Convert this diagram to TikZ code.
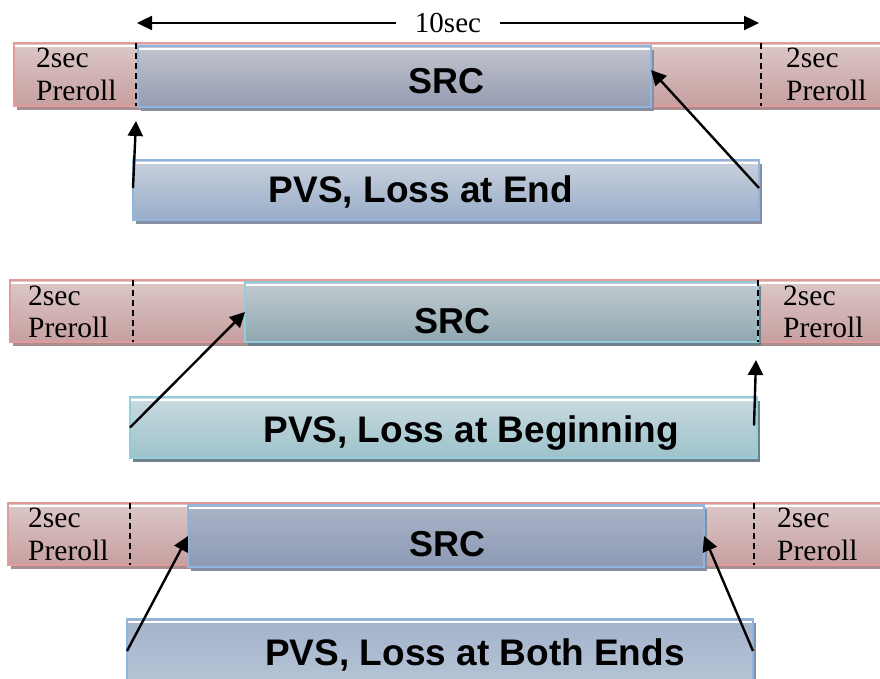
\documentclass[tikz,border=0pt]{standalone}
\usepackage{fontspec}
\setmainfont{Liberation Serif}
\newfontfamily\labelsans{Liberation Sans}
\usetikzlibrary{arrows.meta}

% bar and box colours
\definecolor{barTop}{HTML}{DCC8C8}
\definecolor{barBot}{HTML}{C79F9F}
\definecolor{barEdge}{HTML}{E39A9A}
\definecolor{barShade}{HTML}{A88E8E}
\definecolor{srcATop}{HTML}{C2C4CE}
\definecolor{srcABot}{HTML}{959CB1}
\definecolor{pvsATop}{HTML}{CAD1DD}
\definecolor{pvsABot}{HTML}{98ADC9}
\definecolor{blueEdge}{HTML}{8FB4DE}
\definecolor{blueShade}{HTML}{878EA0}
\definecolor{srcBTop}{HTML}{C1CBD0}
\definecolor{srcBBot}{HTML}{8FA7B0}
\definecolor{pvsBTop}{HTML}{C9DBE0}
\definecolor{pvsBBot}{HTML}{9DC2CB}
\definecolor{cyanEdge}{HTML}{93CDDC}
\definecolor{cyanShade}{HTML}{6F8088}
\definecolor{srcCTop}{HTML}{AAB2C6}
\definecolor{srcCBot}{HTML}{8D9BB5}
\definecolor{pvsCTop}{HTML}{A3B3CB}
\definecolor{pvsCBot}{HTML}{B5C3D5}

\tikzset{
  glossbox/.style n args={4}{
    anchor=north west, inner sep=0pt, outer sep=0pt, line width=1.6pt,
    draw=#3, top color=#1, bottom color=#2,
    preaction={fill=#4, transform canvas={shift={(3pt,-4pt)}}},
    path picture={\draw[white, line width=1.8pt]
      ([yshift=-2.8pt]path picture bounding box.north west) --
      ([yshift=-2.8pt]path picture bounding box.north east);}},
  redbar/.style={glossbox={barTop}{barBot}{barEdge}{barShade}},
  seriftxt/.style={anchor=base west, inner sep=0pt, font=\fontsize{29.5}{33}\selectfont},
  boldtxt/.style={anchor=base, inner sep=0pt, font=\labelsans\bfseries\fontsize{37}{40}\selectfont},
  srctxt/.style={anchor=base, inner sep=0pt, font=\labelsans\bfseries\fontsize{36}{40}\selectfont},
  sepmark/.style={line width=1.6pt, dash pattern=on 6pt off 4pt},
  pointer/.style={line width=2.4pt, -{Triangle[length=15pt,width=15pt]}},
  spanarrow/.style={line width=2.4pt, {Triangle[length=15pt,width=14pt]}-{Triangle[length=15pt,width=14pt]}}
}

\begin{document}
\begin{tikzpicture}[x=1pt, y=-1pt]
\useasboundingbox (0,0) rectangle (880,679);

% ---------- top panel: loss at end ----------
\draw[spanarrow] (137,23) coordinate (spanL) -- (759,23) coordinate (spanR);
\node[fill=white, inner xsep=19pt, inner ysep=2pt, font=\fontsize{29}{33}\selectfont]
  (span) at (448,23) {10sec};

\node[redbar, minimum width=868pt, minimum height=63pt] (bar1) at (14,43) {};
\node[glossbox={srcATop}{srcABot}{blueEdge}{blueShade}, minimum width=513pt, minimum height=61pt] (src1) at (138,46) {};
\node[glossbox={pvsATop}{pvsABot}{blueEdge}{blueShade}, minimum width=626pt, minimum height=60pt] (pvs1) at (133,160) {};
\draw[sepmark] (136,43) coordinate (d1a) -- (136,106);
\draw[sepmark] (761,43) coordinate (d1b) -- (761,106);

\node[seriftxt] (l1a) at (36,68) {2sec};
\node[seriftxt] (l1b) at (36,101) {Preroll};
\node[seriftxt] (r1a) at (786,68) {2sec};
\node[seriftxt] (r1b) at (786,101) {Preroll};
\node[srctxt] (s1) at (446,94) {SRC};
\node[boldtxt] (p1) at (421,203) {PVS, Loss at End};

\coordinate (e1a) at (136,121);
\coordinate (e1b) at (651,70);
\draw[pointer] ([yshift=2pt]pvs1.west) -- (e1a);
\draw[pointer] ([yshift=2pt]pvs1.east) -- (e1b);

% ---------- middle panel: loss at beginning ----------
\node[redbar, minimum width=872pt, minimum height=62pt] (bar2) at (10,280) {};
\node[glossbox={srcBTop}{srcBBot}{cyanEdge}{cyanShade}, minimum width=513pt, minimum height=60pt] (src2) at (245,282) {};
\node[glossbox={pvsBTop}{pvsBBot}{cyanEdge}{cyanShade}, minimum width=627pt, minimum height=61pt] (pvs2) at (130,397) {};
\draw[sepmark] (133,280) coordinate (d2a) -- (133,342);
\draw[sepmark] (758,280) coordinate (d2b) -- (758,342);

\node[seriftxt] (l2a) at (28,305) {2sec};
\node[seriftxt] (l2b) at (28,337) {Preroll};
\node[seriftxt] (r2a) at (783,305) {2sec};
\node[seriftxt] (r2b) at (783,337) {Preroll};
\node[srctxt] (s2) at (452,333) {SRC};
\node[boldtxt] (p2) at (471,442) {PVS, Loss at Beginning};

\coordinate (e2b) at (756,360);
\draw[pointer] (pvs2.west) -- (src2.west);
\draw[pointer] ([xshift=-3pt,yshift=2pt]pvs2.east) -- (e2b);

% ---------- bottom panel: loss at both ends ----------
\node[redbar, minimum width=874pt, minimum height=62pt] (bar3) at (8,503) {};
\node[glossbox={srcCTop}{srcCBot}{blueEdge}{blueShade}, minimum width=516pt, minimum height=62pt] (src3) at (188,505) {};
\node[glossbox={pvsCTop}{pvsCBot}{blueEdge}{blueShade}, minimum width=626pt, minimum height=64pt] (pvs3) at (127,619) {};
\draw[sepmark] (130,503) coordinate (d3a) -- (130,565);
\draw[sepmark] (754,503) coordinate (d3b) -- (754,565);

\node[seriftxt] (l3a) at (28,527) {2sec};
\node[seriftxt] (l3b) at (28,560) {Preroll};
\node[seriftxt] (r3a) at (777,527) {2sec};
\node[seriftxt] (r3b) at (777,560) {Preroll};
\node[srctxt] (s3) at (447,556) {SRC};
\node[boldtxt] (p3) at (475,665) {PVS, Loss at Both Ends};

\draw[pointer] (pvs3.west) -- (src3.west);
\draw[pointer] (pvs3.east) -- (src3.east);
\end{tikzpicture}
\end{document}
